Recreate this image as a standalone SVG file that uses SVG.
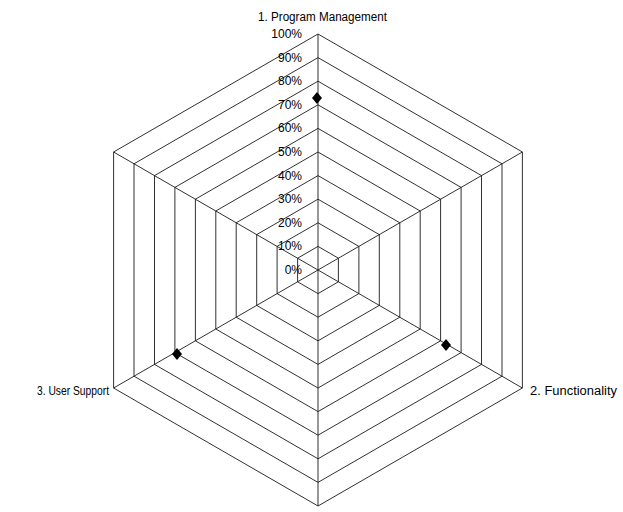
<svg xmlns="http://www.w3.org/2000/svg" xmlns:xlink="http://www.w3.org/1999/xlink" width="623" height="512" viewBox="0 0 623 512">
  <style>
    .ring { fill: none; stroke: #1a1a1a; stroke-width: 0.9; }
    .spoke { stroke: #1a1a1a; stroke-width: 0.9; }
    .pct { font-family: "Liberation Sans", Arial, sans-serif; font-size: 12px; fill: #000; text-anchor: end; }
    .axis-label { font-family: "Liberation Sans", Arial, sans-serif; font-size: 12.5px; fill: #000; }
    .marker { fill: #000; }
  </style>
  <defs>
    <path id="diamond" d="M0,-6 L5,0 L0,6 L-5,0 Z"/>
  </defs>
  <rect width="623" height="512" fill="#fff"/>

  <!-- hexagonal grid rings, 10% to 100% (centre 318,270, radius 236) -->
  <g id="grid">
    <polygon class="ring" points="318,246.4 338.4,258.2 338.4,281.8 318,293.6 297.6,281.8 297.6,258.2"/>
    <polygon class="ring" points="318,222.8 358.9,246.4 358.9,293.6 318,317.2 277.1,293.6 277.1,246.4"/>
    <polygon class="ring" points="318,199.2 379.3,234.6 379.3,305.4 318,340.8 256.7,305.4 256.7,234.6"/>
    <polygon class="ring" points="318,175.6 399.8,222.8 399.8,317.2 318,364.4 236.2,317.2 236.2,222.8"/>
    <polygon class="ring" points="318,152 420.2,211 420.2,329 318,388 215.8,329 215.8,211"/>
    <polygon class="ring" points="318,128.4 440.6,199.2 440.6,340.8 318,411.6 195.4,340.8 195.4,199.2"/>
    <polygon class="ring" points="318,104.8 461.1,187.4 461.1,352.6 318,435.2 174.9,352.6 174.9,187.4"/>
    <polygon class="ring" points="318,81.2 481.5,175.6 481.5,364.4 318,458.8 154.5,364.4 154.5,175.6"/>
    <polygon class="ring" points="318,57.6 502,163.8 502,376.2 318,482.4 134,376.2 134,163.8"/>
    <polygon class="ring" points="318,34 522.4,152 522.4,388 318,506 113.6,388 113.6,152"/>
  </g>

  <!-- axis spokes from the centre -->
  <g id="connectors">
    <line class="spoke" x1="318" y1="270" x2="318" y2="34"/>
    <line class="spoke" x1="318" y1="270" x2="522.4" y2="152"/>
    <line class="spoke" x1="318" y1="270" x2="522.4" y2="388"/>
    <line class="spoke" x1="318" y1="270" x2="318" y2="506"/>
    <line class="spoke" x1="318" y1="270" x2="113.6" y2="388"/>
    <line class="spoke" x1="318" y1="270" x2="113.6" y2="152"/>
  </g>

  <!-- scale labels along the vertical axis -->
  <g id="scale">
    <text class="pct" x="302" y="274">0%</text>
    <text class="pct" x="302" y="250.4">10%</text>
    <text class="pct" x="302" y="226.8">20%</text>
    <text class="pct" x="302" y="203.2">30%</text>
    <text class="pct" x="302" y="179.6">40%</text>
    <text class="pct" x="302" y="156">50%</text>
    <text class="pct" x="302" y="132.4">60%</text>
    <text class="pct" x="302" y="108.8">70%</text>
    <text class="pct" x="302" y="85.2">80%</text>
    <text class="pct" x="302" y="61.6">90%</text>
    <text class="pct" x="302" y="38">100%</text>
  </g>

  <!-- axis titles -->
  <g id="axis-program-management">
    <text class="axis-label" x="258" y="21" textLength="129" lengthAdjust="spacingAndGlyphs">1. Program Management</text>
  </g>
  <g id="axis-functionality">
    <text class="axis-label" x="530" y="395" textLength="87" lengthAdjust="spacingAndGlyphs">2. Functionality</text>
  </g>
  <g id="axis-user-support">
    <text class="axis-label" x="37" y="395" font-size="11.5" textLength="72" lengthAdjust="spacingAndGlyphs">3. User Support</text>
  </g>

  <!-- data points -->
  <g id="data-points">
    <use class="marker" xlink:href="#diamond" x="317" y="98"/>
    <use class="marker" xlink:href="#diamond" x="446" y="345"/>
    <use class="marker" xlink:href="#diamond" x="177" y="354"/>
  </g>
</svg>
